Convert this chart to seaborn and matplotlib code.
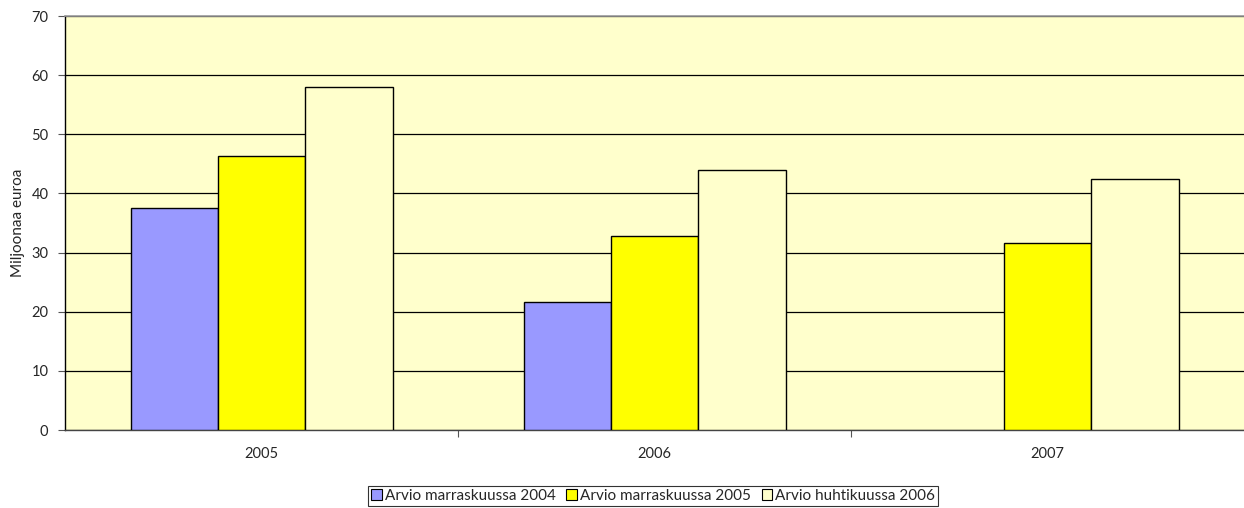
import numpy as np
import pandas as pd
import matplotlib
matplotlib.use("Agg")
import matplotlib.pyplot as plt
from matplotlib.patches import Patch
from matplotlib.ticker import FixedLocator
import seaborn as sns

# Annual figures (million euros) by estimate date
years = ["2005", "2006", "2007"]
series_names = ["Arvio marraskuussa 2004", "Arvio marraskuussa 2005", "Arvio huhtikuussa 2006"]
arvio_marras_2004 = [37.6, 21.6, np.nan]
arvio_marras_2005 = [46.3, 32.8, 31.6]
arvio_huhti_2006 = [58.0, 44.0, 42.4]
y_ticks = [0, 10, 20, 30, 40, 50, 60, 70]
y_label = "Miljoonaa euroa"

colors = ["#9999FF", "#FFFF00", "#FFFFCC"]

rows = []
for name, vals in zip(series_names, [arvio_marras_2004, arvio_marras_2005, arvio_huhti_2006]):
    for yr, v in zip(years, vals):
        rows.append({"Vuosi": yr, "Sarja": name, "Arvo": v})
df = pd.DataFrame(rows).dropna()

sns.set_theme(style="white")
plt.rcParams["font.family"] = ["Lato", "DejaVu Sans"]

fig = plt.figure(figsize=(12.44, 5.08), dpi=100)
ax = fig.add_axes([65 / 1244, 78 / 508, 1 - 65 / 1244, 414 / 508])
ax.set_facecolor("#FFFFCC")

sns.barplot(data=df, x="Vuosi", y="Arvo", hue="Sarja", order=years,
            hue_order=series_names, palette=colors, width=2 / 3, gap=0,
            edgecolor="black", linewidth=1.0, saturation=1, errorbar=None,
            legend=False, ax=ax, zorder=3)

ax.set_xlim(-0.5, len(years) - 0.5)
ax.set_ylim(0, 70)
ax.set_yticks(y_ticks)
ax.yaxis.grid(True, color="black", linewidth=0.9, zorder=1)
ax.set_axisbelow(True)

ax.set_xlabel("")
ax.set_ylabel(y_label, fontsize=11)
ax.yaxis.set_label_coords(-40 / 1179, 0.5)

# Category boundary ticks on the x axis
ax.xaxis.set_minor_locator(FixedLocator([0.5, 1.5]))
ax.tick_params(axis="x", which="major", length=0, pad=12, labelsize=10.5)
ax.tick_params(axis="x", which="minor", length=5, width=0.8, color="#555555", bottom=True)
ax.tick_params(axis="y", which="major", length=5, width=0.8, color="#555555",
               left=True, labelsize=10.5, pad=7)

for side in ["left", "bottom"]:
    ax.spines[side].set_color("black")
    ax.spines[side].set_linewidth(1.0)
ax.spines["bottom"].set_color("#444444")
ax.spines["top"].set_color("#999999")
ax.spines["top"].set_linewidth(1.2)
ax.spines["right"].set_visible(False)

handles = [Patch(facecolor=c, edgecolor="black", linewidth=0.8) for c in colors]
leg = fig.legend(handles, series_names, loc="lower center", ncol=3,
                 bbox_to_anchor=(653 / 1244, 2 / 508), frameon=True, fancybox=False,
                 fontsize=11, handlelength=0.7, handleheight=0.7, handletextpad=0.2,
                 columnspacing=0.7, borderpad=0.2, borderaxespad=0)
leg.get_frame().set_edgecolor("black")
leg.get_frame().set_linewidth(0.8)

fig.savefig("out.png", dpi=100)
